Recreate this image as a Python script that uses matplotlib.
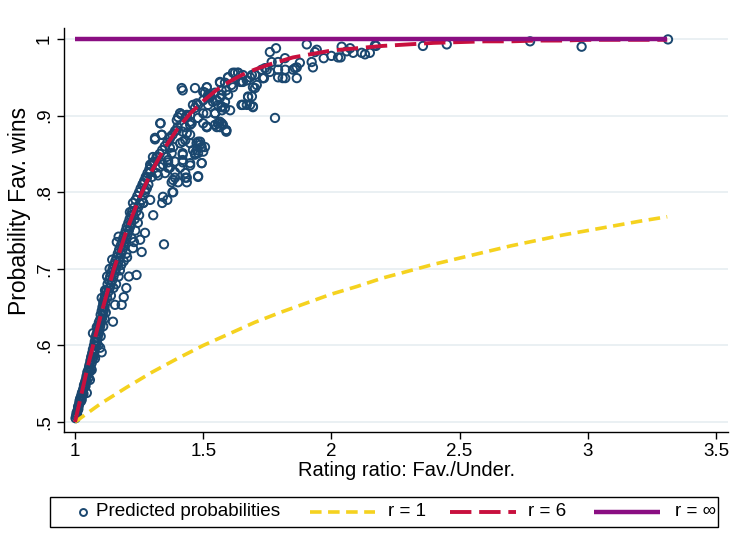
import matplotlib
matplotlib.use("Agg")
import matplotlib.pyplot as plt
from matplotlib.lines import Line2D
from matplotlib.patches import Rectangle

plt.rcParams['font.family'] = ['Liberation Sans', 'DejaVu Sans']

# ---- scatter: predicted probabilities ----
pred_x = [
 1.002,1.004,1.006,1.008,1.01,1.012,1.013,1.015,1.017,1.018,1.02,1.022,1.023,1.025,1.027,1.028,1.03,1.032,1.033,1.035,
 1.036,1.038,1.04,1.041,1.043,1.045,1.046,1.048,1.05,1.052,1.053,1.055,1.057,1.058,1.06,1.062,1.063,1.065,1.067,1.068,
 1.046,1.026,1.058,1.065,1.078,1.07,1.085,1.098,1.104,1.148,1.156,1.182,
 1.07,1.072,1.074,1.075,1.077,1.078,1.08,1.082,1.083,1.085,1.087,1.088,1.09,1.092,1.093,1.095,1.097,1.098,1.1,1.102,
 1.104,1.105,1.107,1.108,1.11,1.112,1.114,1.115,1.117,1.118,1.12,1.09,1.1,1.11,1.115,1.12,
 1.122,1.125,1.127,1.13,1.132,1.135,1.137,1.14,1.142,1.145,1.147,1.15,1.152,1.155,1.157,1.16,1.162,1.165,1.167,1.17,
 1.172,1.175,1.178,1.18,1.183,1.185,1.188,1.19,1.193,1.195,1.198,1.2,1.14,1.15,1.16,1.17,1.175,1.18,1.19,1.2,
 1.19,1.2,1.21,1.24,1.163,1.17,1.104,1.117,1.125,1.135,1.145,1.203,
 1.202,1.205,1.208,1.21,1.213,1.215,1.218,1.22,1.223,1.226,1.228,1.23,1.233,1.236,1.24,1.243,1.246,1.25,1.253,1.256,
 1.26,1.263,1.266,1.27,1.273,1.276,1.28,1.283,1.286,1.29,1.293,1.296,1.3,1.226,1.254,1.26,1.273,1.214,1.266,1.305,
 1.34,1.36,1.38,1.347,1.267,1.273,1.28,1.293,1.304,1.22,1.235,1.245,1.25,1.23,
 1.31,1.32,1.33,1.34,1.35,1.36,1.37,1.38,1.39,1.40,1.334,1.338,1.312,
 1.41,1.397,1.449,1.43,1.436,1.514,1.558,1.565,1.59,1.488,1.474,1.494,1.5,1.46,1.449,1.42,1.41,1.383,1.37,1.377,
 1.357,1.318,1.42,1.468,1.494,1.48,1.42,1.449,1.41,1.39,1.363,1.363,1.331,1.304,1.293,1.324,1.351,1.39,1.402,1.43,
 1.436,1.48,1.377,1.383,1.343,1.28,1.293,
 1.42,1.5,1.527,1.553,1.519,1.546,1.573,1.585,1.597,1.65,1.67,1.48,1.468,1.449,1.436,1.416,1.402,1.449,1.46,1.572,
 1.416,1.468,1.514,1.507,1.566,1.597,1.616,1.636,1.65,1.67,1.683,1.709,1.733,1.741,1.65,1.675,1.694,1.538,1.572,1.519,
 1.5,1.475,1.572,1.546,1.605,1.514,1.48,1.5,1.546,1.565,1.59,1.514,1.455,1.436,1.41,1.332,1.397,1.37,1.42,1.449,
 1.43,1.48,1.488,1.475,1.507,1.468,1.42,1.42,1.39,1.363,1.343,1.312,1.338,1.304,1.37,1.319,1.43,1.436,1.48,1.382,
 1.494,1.449,
 1.76,1.784,1.904,1.936,1.943,2.026,1.819,1.792,1.767,1.858,1.865,1.877,1.923,1.928,1.85,1.82,1.792,1.76,1.748,1.728,
 1.792,1.82,1.865,1.733,1.702,1.69,1.655,1.624,1.636,1.597,1.644,1.616,1.655,1.694,1.702,1.675,1.655,1.683,1.694,1.78,
 1.565,1.585,1.61,1.59,1.572,1.565,1.546,1.527,1.514,1.519,1.558,1.585,1.572,1.546,1.5,1.514,1.558,1.577,1.59,1.553,
 2.04,2.073,2.085,2.118,2.131,2.15,2.036,2.174,2.357,2.45,1.81,1.737,1.69,2.775,2.976,3.313,2.17,2.0,2.06,1.97,
]
pred_y = [
 .505,.508,.512,.51,.515,.52,.517,.522,.525,.528,.53,.532,.527,.535,.538,.534,.54,.543,.537,.548,
 .545,.55,.553,.547,.556,.56,.553,.565,.562,.568,.558,.572,.575,.566,.58,.57,.585,.577,.59,.582,
 .538,.529,.555,.568,.583,.616,.624,.597,.591,.631,.653,.653,
 .595,.585,.6,.59,.605,.596,.61,.6,.614,.605,.618,.61,.625,.615,.63,.62,.633,.625,.64,.63,
 .645,.635,.65,.64,.655,.645,.66,.65,.665,.655,.67,.6,.612,.625,.635,.643,
 .672,.662,.68,.67,.685,.675,.69,.68,.695,.685,.7,.69,.705,.695,.71,.7,.715,.705,.72,.71,
 .725,.715,.73,.72,.735,.725,.74,.73,.745,.735,.75,.74,.665,.675,.68,.69,.698,.705,.71,.72,
 .663,.675,.69,.692,.735,.742,.662,.672,.69,.7,.712,.715,
 .755,.745,.76,.75,.765,.755,.77,.76,.775,.786,.77,.78,.765,.79,.775,.795,.78,.8,.785,.805,
 .79,.81,.786,.815,.8,.82,.805,.825,.81,.83,.79,.835,.82,.727,.738,.722,.747,.774,.786,.77,
 .786,.79,.80,.732,.812,.803,.819,.826,.839,.74,.75,.76,.77,.735,
 .84,.845,.85,.855,.86,.865,.87,.875,.88,.885,.89,.875,.869,
 .903,.894,.888,.885,.877,.885,.89,.885,.879,.866,.864,.859,.853,.855,.864,.866,.864,.859,.858,.851,
 .846,.846,.849,.851,.838,.851,.839,.835,.832,.826,.839,.832,.833,.839,.826,.822,.825,.819,.813,.819,
 .813,.82,.813,.80,.794,.819,.836,
 .933,.931,.924,.92,.914,.903,.907,.918,.927,.914,.914,.914,.91,.901,.901,.901,.898,.892,.914,.89,
 .936,.936,.937,.93,.943,.95,.956,.956,.944,.946,.95,.94,.949,.962,.914,.925,.912,.918,.927,.927,
 .92,.916,.912,.903,.907,.903,.897,.89,.888,.892,.881,.886,.89,.899,.903,.89,.881,.872,.879,.875,
 .868,.866,.862,.855,.859,.849,.851,.842,.84,.842,.836,.871,.875,.846,.832,.825,.825,.819,.821,.816,
 .838,.838,
 .983,.988,.993,.983,.986,.976,.975,.97,.97,.962,.963,.969,.97,.963,.96,.96,.96,.957,.96,.96,
 .95,.949,.949,.949,.953,.953,.953,.956,.956,.95,.944,.937,.944,.937,.936,.924,.914,.914,.911,.897,
 .944,.943,.94,.933,.933,.923,.93,.927,.937,.924,.914,.91,.911,.903,.903,.885,.89,.888,.881,.885,
 .99,.988,.982,.982,.98,.982,.976,.991,.991,.993,.949,.949,.925,.997,.99,.9995,.992,.978,.984,.975,
]

# ---- theoretical curves ----
r1_x = [1.0,1.1,1.2,1.3,1.4,1.5,1.6,1.7,1.8,1.9,2.0,2.1,2.2,2.3,2.4,2.5,2.6,2.7,2.8,2.9,3.0,3.1,3.2,3.31]
r1_y = [.500,.524,.545,.565,.583,.600,.615,.630,.643,.655,.667,.677,.688,.697,.706,.714,.722,.730,.737,.744,.750,.756,.762,.768]

r6_x = [1.0,1.05,1.1,1.15,1.2,1.25,1.3,1.35,1.4,1.45,1.5,1.55,1.6,1.65,1.7,1.75,1.8,1.85,1.9,1.95,2.0,
        2.1,2.2,2.3,2.4,2.5,2.6,2.7,2.8,2.9,3.0,3.1,3.2,3.31]
r6_y = [.500,.573,.639,.698,.749,.792,.828,.858,.883,.903,.919,.933,.944,.953,.960,.966,.971,.976,.979,.982,.985,
        .988,.991,.993,.995,.996,.997,.997,.998,.998,.999,.999,.999,.999]

rinf_x = [1.0, 3.31]
rinf_y = [1.0, 1.0]

xticks = [1, 1.5, 2, 2.5, 3, 3.5]
xtick_labels = ["1", "1.5", "2", "2.5", "3", "3.5"]
yticks = [0.5, 0.6, 0.7, 0.8, 0.9, 1.0]
ytick_labels = [".5", ".6", ".7", ".8", ".9", "1"]
legend_labels = ["Predicted probabilities", "r = 1", "r = 6", "r = \u221e"]

NAVY = "#1A476F"
GOLD = "#F5D21F"
CRAN = "#C8103E"
PURP = "#8A0E82"

W, H = 736, 534
fig = plt.figure(figsize=(W / 100, H / 100), dpi=100)
ax = fig.add_axes([64 / W, 1 - 432 / H, (728 - 64) / W, (432 - 28) / H])

ax.scatter(pred_x, pred_y, s=36, facecolors='none', edgecolors=NAVY, linewidths=1.4, zorder=3)
ax.plot(r1_x, r1_y, color=GOLD, lw=2.6, dashes=(3.2, 1.8), zorder=4)
ax.plot(r6_x, r6_y, color=CRAN, lw=2.8, dashes=(5.5, 2.0), zorder=5)
ax.plot(rinf_x, rinf_y, color=PURP, lw=3.2, zorder=6, solid_capstyle='butt')

ax.set_xlim(0.957, 3.547)
ax.set_ylim(0.487, 1.0144)
ax.set_xticks(xticks)
ax.set_xticklabels(xtick_labels, fontsize=13.5)
ax.set_yticks(yticks)
ax.set_yticklabels(ytick_labels, fontsize=13.5, rotation=90, va='center')
ax.tick_params(direction='out', length=5, width=1, colors='black', pad=3)
for s in ['top', 'right']:
    ax.spines[s].set_visible(False)
for s in ['left', 'bottom']:
    ax.spines[s].set_linewidth(1)
ax.yaxis.grid(True, color='#E6EDF1', lw=1.2, zorder=0)
ax.set_axisbelow(True)

ax.set_xlabel("Rating ratio: Fav./Under.", fontsize=14.5)
ax.xaxis.set_label_coords((407 - 64) / (728 - 64), (432 - 470) / (432 - 28))
ax.xaxis.label.set_va('center')
ax.set_ylabel("Probability Fav. wins", fontsize=16.5)
ax.yaxis.set_label_coords((20 - 64) / (728 - 64), (432 - 211) / (432 - 28))
ax.yaxis.label.set_va('center')

# ---- legend drawn in figure pixel positions ----
def fx(px):
    return px / W

def fy(py):
    return 1 - py / H

ly = 511.5
fig.add_artist(Rectangle((fx(50), fy(527)), fx(718) - fx(50), fy(497) - fy(527),
                         transform=fig.transFigure, fill=False, edgecolor='black', lw=1.0))
fig.add_artist(Line2D([fx(83)], [fy(ly)], transform=fig.transFigure, ls='none', marker='o',
                      markersize=5, markerfacecolor='none', markeredgecolor=NAVY, markeredgewidth=1.4))
fig.add_artist(Line2D([fx(310), fx(375)], [fy(ly), fy(ly)], transform=fig.transFigure,
                      color=GOLD, lw=2.6, dashes=(3.2, 1.8)))
fig.add_artist(Line2D([fx(450), fx(516)], [fy(ly), fy(ly)], transform=fig.transFigure,
                      color=CRAN, lw=2.8, dashes=(5.5, 2.0)))
fig.add_artist(Line2D([fx(594), fx(660)], [fy(ly), fy(ly)], transform=fig.transFigure,
                      color=PURP, lw=3.2, solid_capstyle='butt'))
for xpos, lab in zip([96, 388, 528, 675], legend_labels):
    fig.text(fx(xpos), fy(ly), lab, fontsize=13.6, ha='left', va='center')

fig.savefig("out.png", dpi=100, facecolor='white')
